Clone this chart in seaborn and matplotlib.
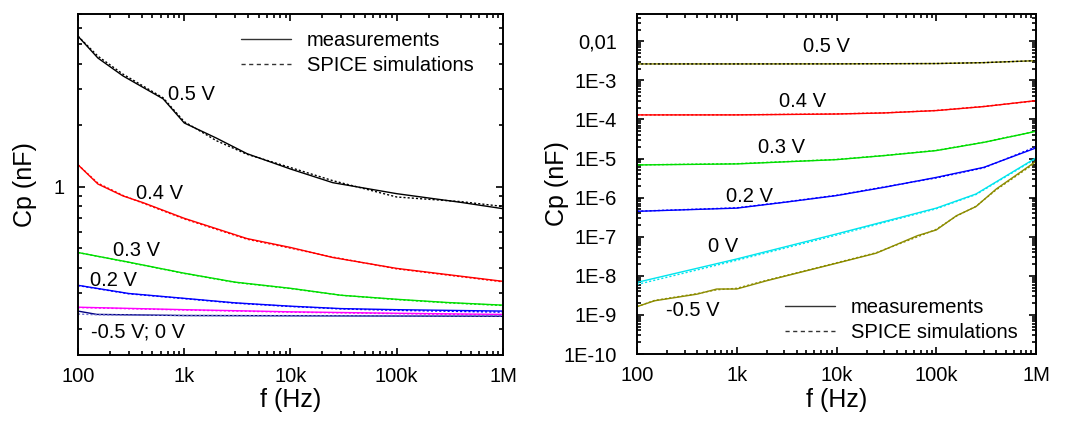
import matplotlib
matplotlib.use("Agg")
import matplotlib.pyplot as plt
import matplotlib.ticker as mticker
from matplotlib.lines import Line2D
import seaborn as sns

# ---- data ----
freq_ticks = [100, 1e3, 1e4, 1e5, 1e6]
freq_labels = ["100", "1k", "10k", "100k", "1M"]

# left panel, Cp in nF
f_l05 = [100, 154, 266, 633, 1000, 2000, 3900, 10000, 25000, 100000, 400000, 1e6]
meas_l05 = [5.45, 4.26, 3.48, 2.69, 2.05, 1.73, 1.45, 1.22, 1.046, 0.924, 0.838, 0.78]
sim_l05 = [5.45, 4.35, 3.55, 2.72, 2.08, 1.68, 1.44, 1.24, 1.07, 0.89, 0.845, 0.80]

f_l04 = [100, 154, 266, 410, 1000, 3900, 10000, 25000, 100000, 1e6]
meas_l04 = [1.28, 1.03, 0.90, 0.835, 0.70, 0.557, 0.504, 0.45, 0.398, 0.344]
sim_l04 = [1.28, 1.04, 0.905, 0.83, 0.695, 0.553, 0.50, 0.452, 0.396, 0.342]

f_l03 = [100, 300, 1000, 3000, 10000, 30000, 100000, 300000, 1e6]
meas_l03 = [0.476, 0.427, 0.377, 0.341, 0.318, 0.294, 0.281, 0.271, 0.263]
sim_l03 = [0.476, 0.426, 0.376, 0.340, 0.317, 0.294, 0.280, 0.270, 0.262]

f_l02 = [100, 300, 1000, 3000, 10000, 30000, 100000, 1e6]
meas_l02 = [0.329, 0.300, 0.284, 0.270, 0.260, 0.253, 0.250, 0.246]
sim_l02 = [0.328, 0.299, 0.283, 0.269, 0.259, 0.252, 0.248, 0.243]

f_l00 = [100, 1000, 10000, 100000, 1e6]
meas_l00 = [0.257, 0.250, 0.244, 0.240, 0.237]
sim_l00 = [0.256, 0.249, 0.243, 0.239, 0.235]

f_lm05 = [100, 150, 1000, 1e6]
meas_lm05 = [0.246, 0.237, 0.234, 0.232]
sim_lm05 = [0.238, 0.236, 0.234, 0.233]

# right panel, Cp in nF
f_r05 = [100, 1000, 10000, 100000, 300000, 1e6]
meas_r05 = [2.64e-3, 2.64e-3, 2.65e-3, 2.70e-3, 2.85e-3, 3.2e-3]
sim_r05 = [2.64e-3, 2.64e-3, 2.65e-3, 2.70e-3, 2.85e-3, 3.2e-3]

f_r04 = [100, 1000, 10000, 30000, 100000, 300000, 1e6]
meas_r04 = [1.31e-4, 1.31e-4, 1.38e-4, 1.47e-4, 1.69e-4, 2.14e-4, 3.04e-4]
sim_r04 = [1.31e-4, 1.32e-4, 1.39e-4, 1.48e-4, 1.70e-4, 2.16e-4, 3.0e-4]

f_r03 = [100, 1000, 10000, 30000, 100000, 300000, 1e6]
meas_r03 = [6.87e-6, 7.3e-6, 9.4e-6, 1.19e-5, 1.6e-5, 2.6e-5, 4.98e-5]
sim_r03 = [6.9e-6, 7.4e-6, 9.5e-6, 1.2e-5, 1.62e-5, 2.62e-5, 5.0e-5]

f_r02 = [100, 1000, 3000, 10000, 30000, 100000, 300000, 1e6]
meas_r02 = [4.47e-7, 5.4e-7, 7.6e-7, 1.13e-6, 1.84e-6, 3.3e-6, 5.97e-6, 1.87e-5]
sim_r02 = [4.5e-7, 5.5e-7, 7.7e-7, 1.15e-6, 1.88e-6, 3.2e-6, 5.8e-6, 2.0e-5]

f_r00 = [100, 1000, 10000, 100000, 250000, 1e6]
meas_r00 = [6.8e-9, 2.7e-8, 1.18e-7, 5.4e-7, 1.24e-6, 1.04e-5]
sim_r00 = [6.0e-9, 2.5e-8, 1.1e-7, 5.2e-7, 1.2e-6, 1.0e-5]

f_rm05 = [100, 150, 400, 630, 1000, 2000, 10000, 25000, 65000, 100000, 160000, 250000, 400000, 1e6]
meas_rm05 = [1.63e-9, 2.3e-9, 3.4e-9, 4.6e-9, 4.6e-9, 7.5e-9, 2.1e-8, 3.8e-8,
             1.07e-7, 1.49e-7, 3.47e-7, 5.9e-7, 1.67e-6, 8.5e-6]
sim_rm05 = [1.63e-9, 2.35e-9, 3.5e-9, 4.4e-9, 4.8e-9, 7.7e-9, 2.15e-8, 3.9e-8,
            1.0e-7, 1.55e-7, 3.4e-7, 6.0e-7, 1.6e-6, 8.0e-6]

right_ticks = [1e-10, 1e-9, 1e-8, 1e-7, 1e-6, 1e-5, 1e-4, 1e-3, 1e-2]
right_labels = ["1E-10", "1E-9", "1E-8", "1E-7", "1E-6", "1E-5", "1E-4", "1E-3", "0,01"]

OLIVE = "#8c8c00"
DOT = (0, (1.5, 1.5))


def draw(ax, f, meas, sim, color, sim_color=None):
    sns.lineplot(x=f, y=meas, ax=ax, color=color, lw=1.0)
    sns.lineplot(x=f, y=sim, ax=ax, color=sim_color or color, lw=1.0, linestyle=DOT)


def style_axes(ax, ylim, yticks, ylabels, ypad, ylab_x, xlab_y):
    ax.set_xscale("log")
    ax.set_yscale("log")
    ax.set_xlim(100, 1e6)
    ax.set_ylim(*ylim)
    ax.xaxis.set_major_locator(mticker.FixedLocator(freq_ticks))
    ax.xaxis.set_major_formatter(mticker.FixedFormatter(freq_labels))
    ax.yaxis.set_major_locator(mticker.FixedLocator(yticks))
    ax.yaxis.set_major_formatter(mticker.FixedFormatter(ylabels))
    for axis in (ax.xaxis, ax.yaxis):
        axis.set_minor_locator(mticker.LogLocator(base=10, subs=range(2, 10), numticks=30))
        axis.set_minor_formatter(mticker.NullFormatter())
    ax.tick_params(which="both", direction="in", top=True, right=True,
                   color="black", width=1.2, labelsize=14.5)
    ax.tick_params(which="major", length=5)
    ax.tick_params(which="minor", length=3.2)
    ax.tick_params(axis="x", which="both", pad=8.5)
    ax.tick_params(axis="y", which="both", pad=ypad)
    for sp in ax.spines.values():
        sp.set_linewidth(1.4)
        sp.set_color("black")
    ax.set_xlabel("f (Hz)", fontsize=18, va="top")
    ax.set_ylabel("Cp (nF)", fontsize=18)
    ax.xaxis.set_label_coords(0.5, xlab_y)
    ax.yaxis.set_label_coords(ylab_x, 0.5)


def main():
    sns.set_style("ticks")
    plt.rcParams["font.family"] = ["Liberation Sans", "DejaVu Sans"]
    plt.rcParams.update({"text.color": "black", "axes.labelcolor": "black",
                         "xtick.labelcolor": "black", "ytick.labelcolor": "black"})

    fig = plt.figure(figsize=(10.88, 4.23), dpi=100)
    ax1 = fig.add_axes([0.0717, 0.1608, 0.3906, 0.8061])
    ax2 = fig.add_axes([0.5855, 0.1631, 0.3667, 0.8038])

    # left panel
    draw(ax1, f_l05, meas_l05, sim_l05, "black")
    draw(ax1, f_l04, meas_l04, sim_l04, "#ff0000")
    draw(ax1, f_l03, meas_l03, sim_l03, "#00dd00")
    draw(ax1, f_l02, meas_l02, sim_l02, "#0000ff")
    draw(ax1, f_l00, meas_l00, sim_l00, "#ff00ff")
    draw(ax1, f_lm05, meas_lm05, sim_lm05, "#000080", "#6a6ad0")
    style_axes(ax1, (0.15, 7), [1], ["1"], 9.5, -0.097, -0.098)

    for txt, x, y in [("0.5 V", 0.268, 0.765), ("0.4 V", 0.191, 0.475),
                      ("0.3 V", 0.138, 0.305), ("0.2 V", 0.083, 0.217),
                      ("-0.5 V; 0 V", 0.142, 0.067)]:
        ax1.text(x, y, txt, transform=ax1.transAxes, ha="center", va="center", fontsize=14.5)

    # right panel
    draw(ax2, f_r05, meas_r05, sim_r05, OLIVE, "black")
    draw(ax2, f_r04, meas_r04, sim_r04, "#ff0000")
    draw(ax2, f_r03, meas_r03, sim_r03, "#00dd00")
    draw(ax2, f_r02, meas_r02, sim_r02, "#0000ff")
    draw(ax2, f_r00, meas_r00, sim_r00, "#00e5ee")
    draw(ax2, f_rm05, meas_rm05, sim_rm05, OLIVE)
    style_axes(ax2, (1e-10, 0.05), right_ticks, right_labels, 14.5, -0.17, -0.1)

    for txt, x, y in [("0.5 V", 0.476, 0.903), ("0.4 V", 0.416, 0.744),
                      ("0.3 V", 0.361, 0.606), ("0.2 V", 0.283, 0.462),
                      ("0 V", 0.216, 0.315), ("-0.5 V", 0.140, 0.129)]:
        ax2.text(x, y, txt, transform=ax2.transAxes, ha="center", va="center", fontsize=14.5)

    handles = [Line2D([], [], color="#333333", lw=1.0),
               Line2D([], [], color="#333333", lw=1.0, linestyle=(0, (3, 2.5)))]
    names = ["measurements", "SPICE simulations"]
    leg_kw = dict(frameon=False, fontsize=14.5, handlelength=2.5, handletextpad=0.8,
                  labelspacing=0.3, borderaxespad=0.2)
    ax1.legend(handles, names, loc="upper right", bbox_to_anchor=(0.96, 0.985), **leg_kw)
    ax2.legend(handles, names, loc="lower right", bbox_to_anchor=(0.985, 0.0), **leg_kw)

    fig.savefig("out.png", dpi=100)


if __name__ == "__main__":
    main()
